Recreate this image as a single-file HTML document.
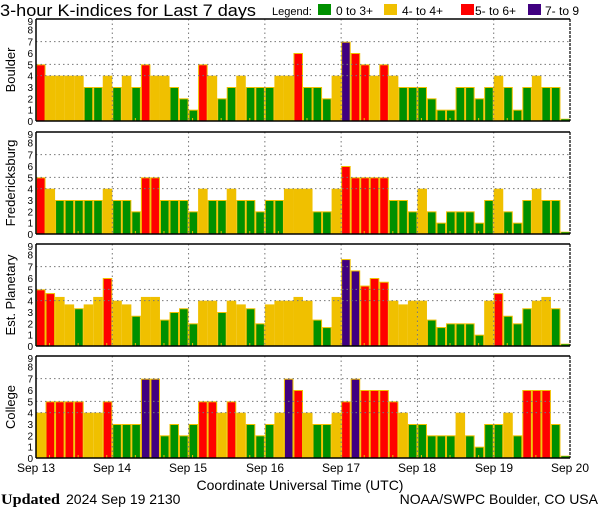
<!DOCTYPE html>
<html><head><meta charset="utf-8"><style>
html,body{margin:0;padding:0;background:#fff;width:600px;height:510px;overflow:hidden}
svg{display:block}
text{font-family:"Liberation Sans",sans-serif;fill:#000}
</style></head><body>
<svg id="s" width="600" height="510" viewBox="0 0 600 510" xmlns="http://www.w3.org/2000/svg">
<text x="0" y="16" font-size="17" textLength="256" lengthAdjust="spacingAndGlyphs">3-hour K-indices for Last 7 days</text>
<text x="272" y="15" font-size="11">Legend:</text>
<rect x="318" y="4" width="13" height="11" fill="#009000"/>
<text x="336" y="15" font-size="12">0 to 3+</text>
<rect x="384" y="4" width="13" height="11" fill="#f0c000"/>
<text x="402" y="15" font-size="12">4- to 4+</text>
<rect x="461" y="4" width="13" height="11" fill="#ff0000"/>
<text x="475" y="15" font-size="12">5- to 6+</text>
<rect x="528" y="4" width="13" height="11" fill="#400080"/>
<text x="545" y="15" font-size="12">7- to 9</text>
<g id="panels"></g>
<text x="15" y="70" font-size="13" text-anchor="middle" transform="rotate(-90 15 70)">Boulder</text>
<text x="15" y="183" font-size="13" text-anchor="middle" transform="rotate(-90 15 183)">Fredericksburg</text>
<text x="15" y="295" font-size="13" text-anchor="middle" transform="rotate(-90 15 295)">Est. Planetary</text>
<text x="15" y="407" font-size="13" text-anchor="middle" transform="rotate(-90 15 407)">College</text>
<g font-size="12" text-anchor="middle">
<text x="36" y="472">Sep 13</text><text x="112" y="472">Sep 14</text><text x="188" y="472">Sep 15</text><text x="265" y="472">Sep 16</text><text x="341" y="472">Sep 17</text><text x="417" y="472">Sep 18</text><text x="494" y="472">Sep 19</text><text x="570" y="472">Sep 20</text>
</g>
<text x="300" y="490" font-size="14" text-anchor="middle">Coordinate Universal Time (UTC)</text>
<text x="1" y="504" font-size="15" font-weight="bold" style="font-family:'Liberation Serif',serif" textLength="59" lengthAdjust="spacingAndGlyphs">Updated</text>
<text x="66" y="504" font-size="14">2024 Sep 19 2130</text>
<text x="598" y="504" font-size="14" text-anchor="end">NOAA/SWPC Boulder, CO USA</text>
</svg>
<script>
var data=[
[5,4,4,4,4,3,3,4,3,4,3,5,4,4,3,2,1,5,4,2,3,4,3,3,3,4,4,6,3,3,2,4,7,6,5,4,5,4,3,3,3,2,1,1,3,3,2,3,4,3,1,3,4,3,3,0],
[5,4,3,3,3,3,3,4,3,3,2,5,5,3,3,3,2,4,3,3,4,3,3,2,3,3,4,4,4,2,2,4,6,5,5,5,5,3,3,2,4,2,1,2,2,2,1,3,4,2,1,3,4,3,3,0],
[5,4.67,4.33,3.67,3.33,3.67,4.33,6,4,3.67,2.67,4.33,4.33,2.33,3,3.33,2,4,4,3,4,3.67,3.33,2,3.67,4,4,4.33,4,2.33,1.67,4.33,7.67,6.67,5.33,6,5.67,4,3.67,4,4,2.33,1.67,2,2,2,1,4,4.67,2.67,2,3.33,4,4.33,3.33,0],
[4,5,5,5,5,4,4,5,3,3,3,7,7,2,3,2,3,5,5,4,5,4,3,2,3,4,7,6,4,3,3,4,5,7,6,6,6,5,4,3,3,2,2,2,4,2,1,3,3,4,2,6,6,6,3,0]];
var tops=[19,132,244,356],H=102,u=H/9,x0=36,W=534,bw=W/56,ns="http://www.w3.org/2000/svg",g=document.getElementById('panels');
function el(t,a){var e=document.createElementNS(ns,t);for(var k in a)e.setAttribute(k,a[k]);g.appendChild(e);return e;}
for(var p=0;p<4;p++){var t=tops[p],b=t+H;
 for(var i=0;i<56;i++){var v=data[p][i],x=x0+i*bw;
  var c=v>=6.5?'#400080':v>=4.5?'#ff0000':v>=3.5?'#f0c000':'#009000';
  if(v==0){el('rect',{x:x+0.5,y:b-2,width:bw-1,height:2,fill:'#009000',stroke:'#f0c000','stroke-width':0.6});continue;}
  var h=v*u;el('rect',{x:x+0.5,y:b-h+0.5,width:bw-1,height:h-0.5,fill:c,stroke:'#f0c000','stroke-width':1});
  if(i%3==1)el('rect',{x:x+3.5,y:b-3,width:1,height:3,fill:'#f0c000'});
 }
 [4,5,7].forEach(function(k){var y=b-k*u;el('line',{x1:x0,x2:x0+W,y1:y,y2:y,stroke:'#777','stroke-dasharray':'1.5,3','stroke-width':1});});
 for(var d=1;d<7;d++){var x=x0+d*W/7;el('line',{x1:x,x2:x,y1:t,y2:b,stroke:'#777','stroke-dasharray':'1.5,3','stroke-width':1});}
 el('line',{x1:x0,x2:x0+W,y1:t,y2:t,stroke:'#000','stroke-width':1.5});
 el('line',{x1:x0,x2:x0+W,y1:b,y2:b,stroke:'#000','stroke-width':1.5});
 el('line',{x1:x0,x2:x0,y1:t,y2:b,stroke:'#000','stroke-width':1.5});
 el('line',{x1:x0+W,x2:x0+W,y1:t,y2:b,stroke:'#000','stroke-width':1.2,'stroke-dasharray':'3,1'});
 for(var k=0;k<=9;k++){var tx=el('text',{x:33,y:b-k*u+(k==9?6:k==8?3:4),'font-size':10,'text-anchor':'end'});tx.textContent=k;}
}
</script>
</body></html>
